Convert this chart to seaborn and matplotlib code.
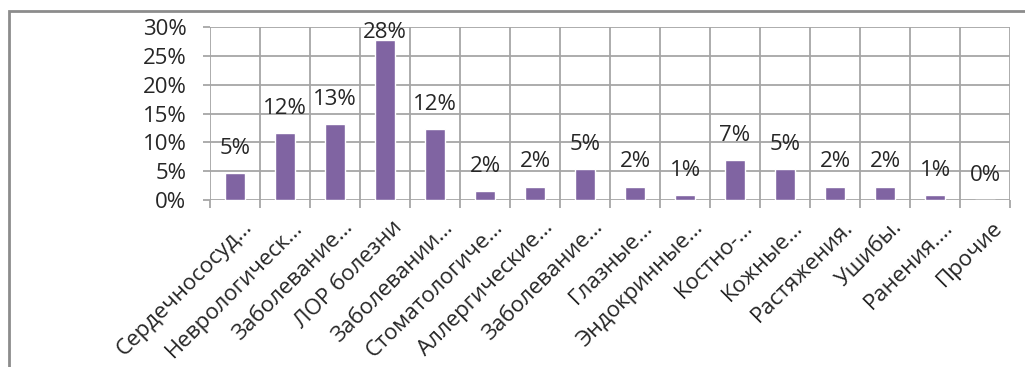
import matplotlib
matplotlib.use("Agg")
import matplotlib.pyplot as plt
import matplotlib.transforms as mtransforms
from matplotlib.patches import Rectangle
from matplotlib.ticker import FixedLocator
import seaborn as sns
import pandas as pd

categories = ["Сердечнососуд…", "Неврологическ…", "Заболевание…", "ЛОР болезни",
              "Заболевании…", "Стоматологиче…", "Аллергические…", "Заболевание…",
              "Глазные…", "Эндокринные…", "Костно-…", "Кожные…",
              "Растяжения.", "Ушибы.", "Ранения.…", "Прочие"]
values = [4.6, 11.6, 13.2, 27.8, 12.3, 1.5, 2.3, 5.4, 2.3, 0.8, 6.9, 5.4, 2.3, 2.3, 0.8, 0.0]
labels = ["5%", "12%", "13%", "28%", "12%", "2%", "2%", "5%", "2%", "1%", "7%", "5%", "2%", "2%", "1%", "0%"]
yticks = [0, 5, 10, 15, 20, 25, 30]

sns.set_theme(style="white")
plt.rcParams["font.family"] = ["Open Sans", "DejaVu Sans"]

W, H = 1025, 367
FS = 16
fig = plt.figure(figsize=(W / 100, H / 100), dpi=100)
ax = fig.add_axes([210 / W, 167 / H, 800 / W, 173 / H])

df = pd.DataFrame({"pos": list(range(len(categories))), "value": values})
sns.barplot(data=df, x="pos", y="value", color="#8064A2", saturation=1,
            width=0.4, ax=ax, zorder=3)

grid_c = "#A6A6A6"
ax.set_xlim(-0.5, len(categories) - 0.5)
ax.set_ylim(0, 30)
ax.set_yticks(yticks)
ax.set_yticklabels([f"{t}%" for t in yticks], fontsize=FS, color="#262626")
ax.set_xticks(range(len(categories)))
ax.xaxis.set_minor_locator(FixedLocator([i - 0.5 for i in range(len(categories) + 1)]))
ax.grid(axis="y", which="major", color=grid_c, linewidth=1.3, zorder=0)
ax.grid(axis="x", which="minor", color=grid_c, linewidth=1.3, zorder=0)
ax.grid(axis="x", which="major", visible=False)
ax.tick_params(axis="y", which="major", length=5, width=1.3, color=grid_c, pad=12, left=True)
ax.tick_params(axis="x", which="major", length=0)
ax.tick_params(axis="x", which="minor", length=6, width=1.3, color=grid_c, bottom=True)
for s in ax.spines.values():
    s.set_visible(False)
ax.set_xlabel("")
ax.set_ylabel("")

offset = mtransforms.ScaledTranslation(7 / 100, -12 / 100, fig.dpi_scale_trans)
ax.set_xticklabels(categories, rotation=45, ha="right", va="top",
                   rotation_mode="anchor", fontsize=FS, color="#262626")
for t in ax.get_xticklabels():
    t.set_transform(t.get_transform() + offset)

for i, (v, lab) in enumerate(zip(values, labels)):
    ax.text(i, min(v + 4.3, 29.1), lab, ha="center", va="center",
            fontsize=FS, color="#262626", clip_on=False, zorder=5)

fig.patches.append(Rectangle((9 / W, -0.1), 1.2, (H - 11) / H + 0.1,
                             transform=fig.transFigure, fill=False,
                             edgecolor="#8C8C8C", linewidth=2))

fig.savefig("out.png", dpi=100)
